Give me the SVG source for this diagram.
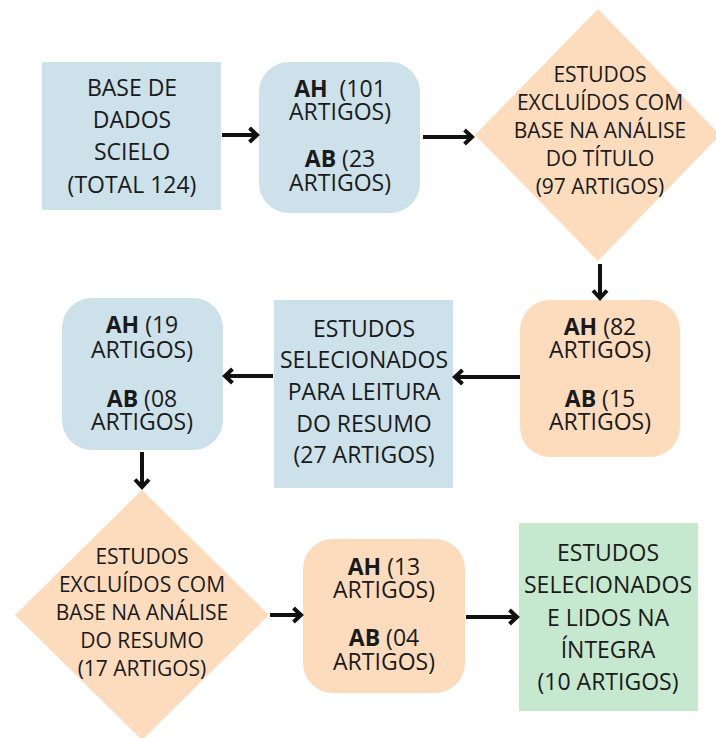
<svg xmlns="http://www.w3.org/2000/svg" width="716" height="738" viewBox="0 0 716 738">
<style>
  text { font-family: "Open Sans", "Noto Sans", "DejaVu Sans", sans-serif; fill: #1a1a1a; text-anchor: middle; }
  .t23 { font-size: 23px; }
  .t21 { font-size: 21px; }
  .b { font-weight: 700; }
  .blue { fill: #cce1ea; }
  .orange { fill: #fcdcbd; }
  .green { fill: #c6e8cf; }
  .conn { stroke: #111; stroke-width: 4; fill: none; }
</style>
<defs>
  <marker id="arr" viewBox="0 0 14 18" refX="11" refY="9" markerWidth="14" markerHeight="18" markerUnits="userSpaceOnUse" orient="auto">
    <path d="M3.5,2 L11,9 L3.5,16" fill="none" stroke="#111" stroke-width="4"/>
  </marker>
</defs>
<rect width="716" height="738" fill="#ffffff"/>

<g id="node-base">
  <rect class="blue" x="42" y="62" width="179" height="148"/>
  <text class="t23" x="132" y="96">BASE DE</text>
  <text class="t23" x="132" y="128">DADOS</text>
  <text class="t23" x="132" y="160">SCIELO</text>
  <text class="t23" x="132" y="193">(TOTAL 124)</text>
</g>

<g id="node-ah101">
  <rect class="blue" x="259" y="62" width="161" height="151" rx="30"/>
  <text class="t23" x="340" y="97" xml:space="preserve"><tspan class="b">AH</tspan>  (101</text>
  <text class="t23" x="340" y="120">ARTIGOS)</text>
  <text class="t23" x="340" y="167"><tspan class="b">AB</tspan> (23</text>
  <text class="t23" x="340" y="191">ARTIGOS)</text>
</g>

<g id="node-excl-titulo">
  <polygon class="orange" points="598,9 720,135 598,261 475,135"/>
  <text class="t21" x="600" y="82">ESTUDOS</text>
  <text class="t21" x="600" y="110">EXCLUÍDOS COM</text>
  <text class="t21" x="600" y="138">BASE NA ANÁLISE</text>
  <text class="t21" x="600" y="166">DO TÍTULO</text>
  <text class="t21" x="600" y="194">(97 ARTIGOS)</text>
</g>

<g id="node-ah82">
  <rect class="orange" x="520" y="300" width="160" height="157" rx="30"/>
  <text class="t23" x="600" y="335"><tspan class="b">AH</tspan> (82</text>
  <text class="t23" x="600" y="358">ARTIGOS)</text>
  <text class="t23" x="600" y="407"><tspan class="b">AB</tspan> (15</text>
  <text class="t23" x="600" y="430">ARTIGOS)</text>
</g>

<g id="node-sel-resumo">
  <rect class="blue" x="274" y="300" width="179" height="188"/>
  <text class="t23" x="364" y="337">ESTUDOS</text>
  <text class="t23" x="364" y="368">SELECIONADOS</text>
  <text class="t23" x="364" y="400">PARA LEITURA</text>
  <text class="t23" x="364" y="432">DO RESUMO</text>
  <text class="t23" x="364" y="463">(27 ARTIGOS)</text>
</g>

<g id="node-ah19">
  <rect class="blue" x="62" y="298" width="161" height="152" rx="30"/>
  <text class="t23" x="142" y="333"><tspan class="b">AH</tspan> (19</text>
  <text class="t23" x="142" y="358">ARTIGOS)</text>
  <text class="t23" x="142" y="407"><tspan class="b">AB</tspan> (08</text>
  <text class="t23" x="142" y="430">ARTIGOS)</text>
</g>

<g id="node-excl-resumo">
  <polygon class="orange" points="142,490 269,615 142,740 15,615"/>
  <text class="t21" x="142" y="564">ESTUDOS</text>
  <text class="t21" x="142" y="592">EXCLUÍDOS COM</text>
  <text class="t21" x="142" y="620">BASE NA ANÁLISE</text>
  <text class="t21" x="142" y="648">DO RESUMO</text>
  <text class="t21" x="142" y="676">(17 ARTIGOS)</text>
</g>

<g id="node-ah13">
  <rect class="orange" x="303" y="539" width="162" height="154" rx="30"/>
  <text class="t23" x="384" y="575"><tspan class="b">AH</tspan> (13</text>
  <text class="t23" x="384" y="598">ARTIGOS)</text>
  <text class="t23" x="384" y="646"><tspan class="b">AB</tspan> (04</text>
  <text class="t23" x="384" y="670">ARTIGOS)</text>
</g>

<g id="node-final">
  <rect class="green" x="519" y="523" width="179" height="188"/>
  <text class="t23" x="608" y="561">ESTUDOS</text>
  <text class="t23" x="608" y="593">SELECIONADOS</text>
  <text class="t23" x="608" y="626">E LIDOS NA</text>
  <text class="t23" x="608" y="658">ÍNTEGRA</text>
  <text class="t23" x="608" y="690">(10 ARTIGOS)</text>
</g>

<g id="connectors">
  <line class="conn" x1="222" y1="135" x2="257" y2="135" marker-end="url(#arr)"/>
  <line class="conn" x1="423" y1="137" x2="472" y2="137" marker-end="url(#arr)"/>
  <line class="conn" x1="600" y1="264" x2="600" y2="298" marker-end="url(#arr)"/>
  <line class="conn" x1="520" y1="377" x2="455" y2="377" marker-end="url(#arr)"/>
  <line class="conn" x1="273" y1="376" x2="225" y2="376" marker-end="url(#arr)"/>
  <line class="conn" x1="142" y1="452" x2="142" y2="487" marker-end="url(#arr)"/>
  <line class="conn" x1="270" y1="615" x2="301" y2="615" marker-end="url(#arr)"/>
  <line class="conn" x1="466" y1="617" x2="517" y2="617" marker-end="url(#arr)"/>
</g>
</svg>
